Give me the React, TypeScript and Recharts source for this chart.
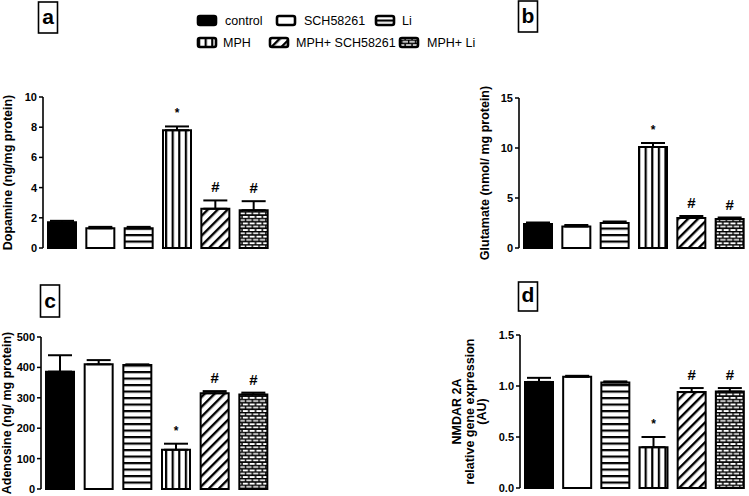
import { Bar, BarChart, Cell, ErrorBar, Label, LabelList, XAxis, YAxis } from 'recharts';

const groups = ['control', 'SCH58261', 'Li', 'MPH', 'MPH+ SCH58261', 'MPH+ Li'];
const marks = ['', '', '', '*', '#', '#'];

const dopamine = [1.7, 1.3, 1.3, 7.8, 2.6, 2.5];
const dopamineErr = [0.1, 0.1, 0.1, 0.25, 0.55, 0.6];
const dopamineTicks = [0, 2, 4, 6, 8, 10];

const glutamate = [2.4, 2.15, 2.5, 10.1, 3.0, 2.9];
const glutamateErr = [0.15, 0.15, 0.15, 0.4, 0.2, 0.15];
const glutamateTicks = [0, 5, 10, 15];

const adenosine = [386, 410, 408, 129, 315, 311];
const adenosineErr = [54, 14, 2, 20, 7, 6];
const adenosineTicks = [0, 100, 200, 300, 400, 500];

const nmdar = [1.04, 1.09, 1.035, 0.4, 0.94, 0.945];
const nmdarErr = [0.04, 0.01, 0.01, 0.1, 0.04, 0.035];
const nmdarTicks = [0, 0.5, 1.0, 1.5];

const FONT = '"Liberation Sans", Arial, sans-serif';
const fills = ['#000', '#fff', 'url(#hstripe)', 'url(#vstripe)', 'url(#diag)', 'url(#brick)'];

type Row = { group: string; mean: number; err: [number, number]; mark: string };

function buildRows(values: number[], errors: number[]): Row[] {
  return groups.map((g, i) => ({ group: g, mean: values[i], err: [0, errors[i]], mark: marks[i] }));
}

// draws * / # just above the error cap, using the bar's own pixel height for the scale
function markContent(rows: Row[]) {
  return (props: any) => {
    const row = rows[props.index];
    if (!row || !row.mark) return null;
    const vb = props.viewBox ?? props;
    const { x, y, width, height } = vb;
    const top = y - (row.err[1] * height) / row.mean;
    const isStar = row.mark === '*';
    return (
      <text
        x={x + width / 2}
        y={top - (isStar ? 9 : 8)}
        textAnchor="middle"
        fontFamily={FONT}
        fontWeight={700}
        fontSize={isStar ? 12 : 15}
        fill="#000"
      >
        {row.mark}
      </text>
    );
  };
}

function yLabel(lines: string[], xs: number[]) {
  return (props: any) => {
    const vb = props.viewBox;
    const cy = vb.y + vb.height / 2;
    return (
      <g>
        {lines.map((l, i) => (
          <text
            key={i}
            transform={`translate(${xs[i]},${cy}) rotate(-90)`}
            textAnchor="middle"
            dominantBaseline="central"
            fontFamily={FONT}
            fontWeight={700}
            fontSize={12.5}
            fill="#000"
          >
            {l}
          </text>
        ))}
      </g>
    );
  };
}

interface PanelProps {
  rows: Row[];
  ticks: number[];
  fmt?: (v: number) => string;
  label: string[];
  labelX: number[];
  left: number;
  top: number;
  width: number;
  height: number;
  margin: { top: number; right: number; bottom: number; left: number };
  yWidth: number;
}

function Panel(p: PanelProps) {
  return (
    <div style={{ position: 'absolute', left: p.left, top: p.top }}>
      <BarChart width={p.width} height={p.height} data={p.rows} margin={p.margin}>
        <XAxis
          dataKey="group"
          tick={false}
          tickLine={false}
          height={0}
          axisLine={{ stroke: '#000', strokeWidth: 2 }}
        />
        <YAxis
          width={p.yWidth}
          domain={[0, p.ticks[p.ticks.length - 1]]}
          ticks={p.ticks}
          interval={0}
          tickFormatter={p.fmt}
          tickSize={4}
          tickMargin={2}
          tick={{ fill: '#000', fontSize: 11, fontWeight: 700, fontFamily: FONT }}
          tickLine={{ stroke: '#000', strokeWidth: 1.5 }}
          axisLine={{ stroke: '#000', strokeWidth: 1.6 }}
        >
          <Label content={yLabel(p.label, p.labelX)} />
        </YAxis>
        <Bar dataKey="mean" barSize={28} stroke="#000" strokeWidth={2} isAnimationActive={false}>
          {p.rows.map((r, i) => (
            <Cell key={r.group} fill={fills[i]} />
          ))}
          <ErrorBar dataKey="err" width={12} stroke="#000" strokeWidth={2} direction="y" />
          <LabelList dataKey="mark" content={markContent(p.rows)} />
        </Bar>
      </BarChart>
    </div>
  );
}

const legendPos = [
  { x: 198, y: 16, tx: 225 },
  { x: 277, y: 16, tx: 304 },
  { x: 376, y: 16, tx: 402 },
  { x: 198, y: 38, tx: 223 },
  { x: 270, y: 38, tx: 296 },
  { x: 400, y: 38, tx: 427 },
];

const panelTags = [
  { t: 'a', x: 38.5, y: 2, w: 19, h: 31, by: 24 },
  { t: 'b', x: 518.5, y: 1, w: 19, h: 31, by: 23 },
  { t: 'c', x: 40.5, y: 285, w: 19, h: 32, by: 308 },
  { t: 'd', x: 518.5, y: 282, w: 19, h: 29, by: 302 },
];

export default function App() {
  const one = (v: number) => v.toFixed(1);
  return (
    <div
      style={{
        position: 'absolute',
        left: 0,
        top: 0,
        width: 749,
        height: 496,
        background: '#fff',
        fontFamily: FONT,
      }}
    >
      <Panel
        rows={buildRows(dopamine, dopamineErr)}
        ticks={dopamineTicks}
        label={['Dopamine (ng/mg protein)']}
        labelX={[8]}
        left={0}
        top={0}
        width={280}
        height={260}
        margin={{ top: 97, right: 7, bottom: 12, left: 0 }}
        yWidth={43}
      />
      <Panel
        rows={buildRows(glutamate, glutamateErr)}
        ticks={glutamateTicks}
        label={['Glutamate (nmol/ mg protein)']}
        labelX={[45]}
        left={440}
        top={0}
        width={309}
        height={260}
        margin={{ top: 98, right: 0, bottom: 12, left: 0 }}
        yWidth={79}
      />
      <Panel
        rows={buildRows(adenosine, adenosineErr)}
        ticks={adenosineTicks}
        label={['Adenosine (ng/ mg protein)']}
        labelX={[7]}
        left={0}
        top={280}
        width={280}
        height={215}
        margin={{ top: 57, right: 7, bottom: 6, left: 0 }}
        yWidth={41}
      />
      <Panel
        rows={buildRows(nmdar, nmdarErr)}
        ticks={nmdarTicks}
        fmt={one}
        label={['NMDAR 2A', 'relative gene expression', '(AU)']}
        labelX={[17, 29.5, 42]}
        left={440}
        top={280}
        width={309}
        height={215}
        margin={{ top: 55, right: 0, bottom: 7, left: 0 }}
        yWidth={80}
      />
      <svg
        width={749}
        height={496}
        style={{ position: 'absolute', left: 0, top: 0, pointerEvents: 'none' }}
      >
        <defs>
          <pattern id="hstripe" patternUnits="userSpaceOnUse" width={6.5} height={6.5}>
            <rect width={6.5} height={6.5} fill="#fff" />
            <rect y={0} width={6.5} height={2.2} fill="#000" />
          </pattern>
          <pattern id="vstripe" patternUnits="userSpaceOnUse" width={6.6} height={6.6}>
            <rect width={6.6} height={6.6} fill="#fff" />
            <rect x={0} width={2.2} height={6.6} fill="#000" />
          </pattern>
          <pattern
            id="diag"
            patternUnits="userSpaceOnUse"
            width={7}
            height={7}
            patternTransform="rotate(45)"
          >
            <rect width={7} height={7} fill="#fff" />
            <rect x={0} width={2.4} height={7} fill="#000" />
          </pattern>
          <pattern id="brick" patternUnits="userSpaceOnUse" width={6.8} height={6.6}>
            <rect width={6.8} height={6.6} fill="#fff" />
            <path
              d="M0 0.6H6.8 M0 3.9H6.8 M0.6 0.6V3.9 M4 3.9V6.6"
              stroke="#000"
              strokeWidth={1.5}
              fill="none"
            />
          </pattern>
        </defs>
        {groups.map((g, i) => (
          <g key={g}>
            <rect
              x={legendPos[i].x}
              y={legendPos[i].y}
              width={18}
              height={9}
              rx={2}
              fill={fills[i]}
              stroke="#000"
              strokeWidth={2.6}
            />
            <text
              x={legendPos[i].tx}
              y={legendPos[i].y + 9}
              fontFamily={FONT}
              fontSize={12.5}
              fill="#000"
            >
              {g}
            </text>
          </g>
        ))}
        {panelTags.map((t) => (
          <g key={t.t}>
            <rect x={t.x} y={t.y} width={t.w} height={t.h} fill="#fff" stroke="#000" strokeWidth={1.6} />
            <text
              x={t.x + t.w / 2}
              y={t.by}
              textAnchor="middle"
              fontFamily={FONT}
              fontWeight={700}
              fontSize={21}
              fill="#000"
            >
              {t.t}
            </text>
          </g>
        ))}
      </svg>
    </div>
  );
}
